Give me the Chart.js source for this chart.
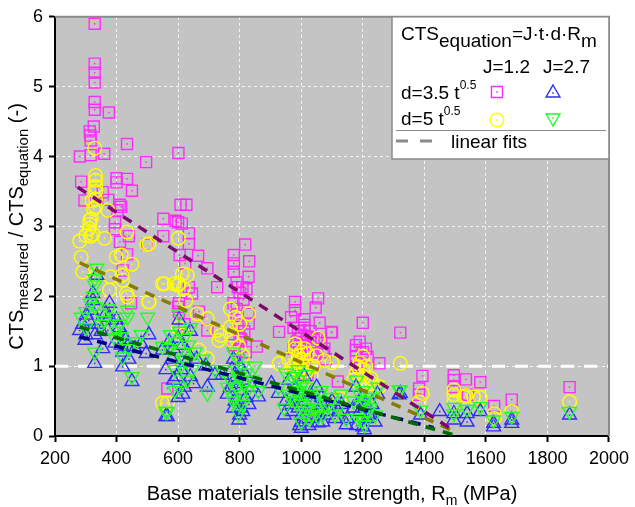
<!DOCTYPE html>
<html>
<head>
<meta charset="utf-8">
<script src="https://cdn.jsdelivr.net/npm/chart.js@4/dist/chart.umd.min.js"></script>
<style>
  html, body { margin: 0; padding: 0; background: #fff; }
  #wrap { width: 635px; height: 507px; }
</style>
</head>
<body>
<div id="wrap"><canvas id="chart" width="635" height="507"></canvas></div>
<script>
// J=1.2, d=3.5 t^0.5 (squares)
const sqX = [329,329,329,329,329,329,375,326,313,315,316,434,281,316,360,601,496,285,400,400,434,450,355,296,373,410,415,403,552,552,395,395,411,440,500,434,420,447,608,627,592,600,612,635,635,665,605,623,695,818,781,781,781,831,829,794,809,727,635,645,603,603,668,695,790,800,812,822,780,790,829,829,856,565,1055,980,980,1047,967,1010,1010,1060,1098,928,975,990,1000,1020,1040,985,1005,1030,1065,1075,995,1015,1050,1080,1000,1040,1200,1178,1178,1178,1216,1200,1190,1322,1254,1394,1383,1383,1496,1496,1496,1535,1542,1582,1627,1684,1872,1119,1055,1100,1000,1020,800,780,820,600,620,790,800,815,805,795,975,995,1010,1030,1050,1070,1190,1210,1180];
const sqY = [5.9,5.33,5.2,5.06,4.78,4.67,4.63,4.43,4.36,4.3,4.23,4.18,4.0,4.02,4.04,4.05,3.92,3.64,3.69,3.63,3.68,3.51,3.49,3.37,3.38,3.31,3.28,3.23,3.11,2.86,3.06,2.96,2.78,2.86,2.74,2.6,2.37,1.9,3.31,3.31,3.08,3.06,3.04,2.9,2.75,2.58,2.59,2.47,2.4,2.74,2.59,2.47,2.35,2.5,2.28,2.13,2.13,2.13,2.13,2.04,1.9,1.78,1.78,1.51,2.2,2.05,1.95,2.1,1.9,1.82,1.75,1.61,1.28,0.68,1.97,1.92,1.8,1.84,1.7,1.67,1.59,1.62,1.49,1.49,1.55,1.5,1.45,1.42,1.38,1.35,1.3,1.28,1.33,1.25,1.2,1.15,1.18,1.1,1.08,1.05,1.62,1.3,1.23,1.13,1.13,1.2,1.05,1.48,1.04,0.86,0.68,0.59,0.87,0.8,0.7,0.81,0.59,0.77,0.43,0.52,0.7,0.78,0.33,1.48,0.9,0.85,1.4,1.3,1.2,1.85,1.6,1.72,1.6,1.5,1.38,1.22,1.25,1.4,1.55,1.5,1.4,1.2,1.35,1.25,1.0];

// J=1.2, d=5 t^0.5 (circles)
const ciX = [329,332,332,332,332,332,332,313,313,311,318,280,316,323,361,434,498,372,285,399,415,450,290,335,380,418,377,436,504,549,549,320,325,300,420,432,506,601,555,587,603,614,630,600,617,506,625,662,695,727,738,732,770,786,770,775,797,829,668,695,565,1055,980,1000,1020,1050,1075,1100,928,960,975,990,1005,1015,1032,970,1000,985,995,1010,1020,1000,990,1200,1178,1205,1216,1125,1322,1254,1394,1383,1496,1496,1496,1528,1535,1582,1627,1627,1684,1872,1184,1227,1560,800,780,810,600,620,1190,1200,1210,1170,1230,980,1010,1040];
const ciY = [4.12,3.73,3.66,3.57,3.5,3.39,3.28,3.09,3.03,2.97,3.11,2.79,2.86,2.89,2.83,2.92,2.74,3.23,2.56,2.56,2.59,2.46,2.35,2.3,2.28,2.3,2.09,1.99,1.92,2.18,0.47,3.37,3.25,2.87,2.23,2.04,2.75,2.83,2.18,2.18,2.18,2.32,2.3,2.16,2.11,1.92,1.94,1.75,1.68,1.51,1.44,1.37,1.82,1.7,1.56,1.44,1.28,1.75,1.23,1.11,0.47,1.4,1.32,1.2,1.18,1.15,1.08,1.05,1.04,1.1,1.0,0.95,1.02,0.9,0.86,0.9,0.85,1.05,0.98,0.93,1.0,1.1,1.15,1.14,0.9,0.85,0.75,0.54,1.04,0.71,0.61,0.49,0.66,0.59,0.49,0.56,0.58,0.55,0.32,0.25,0.35,0.49,0.99,0.82,0.56,1.6,1.35,1.15,1.55,1.45,1.05,0.95,1.0,0.8,0.75,1.25,1.25,1.0];

// J=2.7, d=3.5 t^0.5 (up triangles)
const trX = [323,323,318,302,280,297,377,377,372,400,410,420,430,436,415,395,340,350,330,310,290,496,329,420,450,549,560,336,300,460,480,505,420,440,365,355,603,571,585,600,615,630,625,610,595,640,650,620,565,695,720,743,580,560,640,660,690,797,861,780,800,790,810,770,800,820,785,805,830,760,840,800,815,775,926,1000,1055,1146,1205,903,960,980,1000,1010,990,1000,1020,1040,1060,1080,1100,1120,950,970,1000,1030,1050,1150,1010,1178,1200,1210,1190,1220,1240,1180,1200,1248,1322,1388,1496,1496,1539,1539,1582,1625,1625,1684,1684,1872,1318,1450,985,1015,1035,1070,1090,1110,965,945,1025,995,1045,1065,1130,1190,1205,1230,1215,1170,780,810,795,600,615,585];
const trY = [2.04,1.94,1.8,1.73,1.51,1.37,1.9,1.7,1.51,1.66,1.55,1.45,1.38,1.28,1.3,1.33,1.6,1.5,1.45,1.65,1.6,1.18,1.04,0.99,0.78,1.23,0.28,2.3,1.45,1.25,1.32,1.45,1.2,1.1,1.75,1.25,1.66,1.35,1.25,1.4,1.3,1.2,1.05,0.95,0.85,0.85,0.75,0.7,0.28,0.7,0.87,0.87,1.1,0.95,1.5,1.1,1.0,0.23,0.56,1.1,1.0,0.85,0.8,0.7,0.65,0.55,0.5,0.4,0.45,0.6,0.7,0.3,0.9,0.95,0.61,0.11,0.19,0.16,0.09,0.75,0.8,0.7,0.6,0.5,0.4,0.3,0.35,0.45,0.4,0.3,0.5,0.35,0.5,0.35,0.2,0.6,0.7,0.25,0.85,0.7,0.55,0.45,0.35,0.3,0.2,0.15,0.13,0.6,0.61,0.3,0.32,0.23,0.32,0.2,0.35,0.18,0.13,0.23,0.18,0.3,0.59,0.35,0.55,0.25,0.25,0.2,0.35,0.25,0.45,0.3,0.15,0.15,0.3,0.55,0.45,0.5,0.4,0.45,0.25,0.4,0.4,0.35,0.75,0.55,0.6,0.8];

// J=2.7, d=5 t^0.5 (down triangles)
const dtX = [329,329,325,315,300,285,336,330,345,360,375,390,436,436,501,329,420,450,549,560,400,415,425,440,410,300,350,465,480,395,603,575,590,605,620,635,600,620,610,590,645,630,655,565,695,720,743,570,680,640,797,861,780,795,810,790,800,770,815,790,805,780,825,840,800,760,820,850,1000,1055,1146,1205,926,950,970,990,1005,1015,995,1010,1025,980,1000,1040,1060,1080,1100,1120,1130,960,1000,1020,1050,990,1015,1180,1200,1215,1195,1225,1240,1185,1200,1250,1322,1388,1496,1496,1539,1582,1625,1684,1872,1318,985,1015,1035,1070,1090,1110,965,945,1025,1045,1065,1190,1205,1230,1215,1170,780,810,795,605,590];
const dtY = [2.25,2.16,2.0,1.9,1.78,1.7,2.4,1.85,1.75,1.65,1.82,1.7,1.8,1.7,1.7,1.2,1.13,0.85,1.28,0.35,1.5,1.42,1.35,1.25,1.6,1.55,1.6,1.35,1.45,1.4,1.75,1.45,1.35,1.5,1.4,1.3,1.2,1.1,1.0,0.95,0.95,0.8,1.2,0.35,0.61,0.95,0.95,1.25,1.1,1.55,0.32,0.65,1.2,1.1,1.0,0.95,0.85,0.8,0.75,0.7,0.6,0.55,0.65,0.8,0.45,0.7,0.9,1.0,0.2,0.28,0.25,0.16,0.7,0.9,0.85,0.8,0.75,0.7,0.65,0.6,0.55,0.5,0.45,0.5,0.6,0.45,0.55,0.4,0.6,0.6,0.35,0.4,0.35,0.95,0.88,0.8,0.65,0.55,0.45,0.4,0.3,0.25,0.22,0.7,0.66,0.37,0.41,0.32,0.38,0.42,0.23,0.28,0.35,0.66,0.65,0.3,0.3,0.3,0.45,0.3,0.55,0.4,0.25,0.4,0.65,0.6,0.5,0.55,0.35,0.5,0.5,0.45,0.85,0.7,0.65];

// linear fits (end points)
const fitSqX = [274, 1484], fitSqY = [3.56, 0.11];
const fitCiX = [280, 1496], fitCiY = [2.48, 0.07];
const fitTrX = [280, 1430], fitTrY = [1.42, 0.12];
const fitDtX = [280, 1500], fitDtY = [1.56, 0.01];

const xTicks = [200, 400, 600, 800, 1000, 1200, 1400, 1600, 1800, 2000];
const yTicks = [0, 1, 2, 3, 4, 5, 6];

const FONT = '"Liberation Sans", Arial, sans-serif';
const pts = (xs, ys) => xs.map((x, i) => ({ x, y: ys[i] }));

const MAG = '#ff2cff', YEL = '#ffff00', BLU = '#2e2eff', GRN = '#22ff22';

const marker = (label, xs, ys, color, style, r, rot, order) => ({
  label, data: pts(xs, ys), order,
  pointStyle: style, pointRadius: r, pointRotation: rot || 0,
  pointBorderColor: color, pointBackgroundColor: 'rgba(0,0,0,0)',
  pointBorderWidth: 1.4, showLine: false, dotColor: color
});
const fit = (xs, ys, color) => ({
  data: pts(xs, ys), showLine: true, pointRadius: 0, order: 0,
  borderColor: color, borderWidth: 3.5, borderDash: [10, 8]
});

// text with sub/superscripts
const richText = (ctx, parts, x, y) => {
  let cx = x;
  parts.forEach(p => {
    ctx.font = p.size + 'px ' + FONT;
    ctx.fillText(p.t, cx, y + (p.dy || 0));
    cx += ctx.measureText(p.t).width;
  });
  return cx - x;
};
const richWidth = (ctx, parts) => parts.reduce((w, p) => {
  ctx.font = p.size + 'px ' + FONT;
  return w + ctx.measureText(p.t).width;
}, 0);

const decor = {
  id: 'decor',
  beforeDraw(chart) {
    const { ctx, chartArea: a } = chart;
    ctx.save();
    ctx.fillStyle = '#c4c4c4';
    ctx.fillRect(a.left, a.top, a.right - a.left, a.bottom - a.top);
    ctx.restore();
  },
  afterDatasetDraw(chart, args) {
    const ds = chart.data.datasets[args.index];
    if (!ds.dotColor) return;
    const ctx = chart.ctx;
    ctx.save();
    ctx.fillStyle = ds.dotColor;
    args.meta.data.forEach(p => ctx.fillRect(p.x - 0.75, p.y - 0.75, 1.5, 1.5));
    ctx.restore();
  },
  afterDraw(chart) {
    const { ctx, chartArea: a } = chart;
    ctx.save();
    // top/right frame
    ctx.strokeStyle = '#8a8a8a';
    ctx.lineWidth = 2;
    ctx.beginPath();
    ctx.moveTo(a.left, a.top); ctx.lineTo(a.right, a.top); ctx.lineTo(a.right, a.bottom);
    ctx.stroke();

    // legend box
    ctx.fillStyle = '#fff';
    ctx.fillRect(392, a.top, a.right - 392, 159 - a.top);
    ctx.strokeStyle = '#8a8a8a';
    ctx.lineWidth = 1.5;
    ctx.strokeRect(392, a.top, a.right - 392, 159 - a.top);

    ctx.fillStyle = '#000';
    ctx.textBaseline = 'alphabetic';
    ctx.textAlign = 'left';
    richText(ctx, [{ t: 'CTS', size: 19 }, { t: 'equation', size: 19, dy: 7 }, { t: '=J·t·d·R', size: 19 }, { t: 'm', size: 19, dy: 7 }], 401, 40);
    richText(ctx, [{ t: 'J=1.2', size: 19 }], 483, 73);
    richText(ctx, [{ t: 'J=2.7', size: 19 }], 543, 73);
    richText(ctx, [{ t: 'd=3.5 t', size: 19 }, { t: '0.5', size: 12, dy: -10 }], 401, 99);
    richText(ctx, [{ t: 'd=5 t', size: 19 }, { t: '0.5', size: 12, dy: -10 }], 401, 125);

    const H = Chart.helpers;
    const pm = (style, r, rot, color, x, y) => {
      ctx.strokeStyle = color; ctx.fillStyle = 'rgba(0,0,0,0)'; ctx.lineWidth = 1.4;
      H.drawPoint(ctx, { pointStyle: style, radius: r, rotation: rot, borderWidth: 1.4 }, x, y);
      ctx.fillStyle = color;
      ctx.fillRect(x - 0.75, y - 0.75, 1.5, 1.5);
    };
    pm('rect', 7.8, 0, MAG, 497, 92);
    pm('triangle', 8, 0, BLU, 553, 93);
    pm('circle', 6.8, 0, YEL, 497, 120);
    pm('triangle', 8, 180, GRN, 553, 118);

    ctx.strokeStyle = '#8a8a8a';
    ctx.lineWidth = 1;
    ctx.beginPath(); ctx.moveTo(396, 130.5); ctx.lineTo(606, 130.5); ctx.stroke();
    ctx.lineWidth = 3;
    ctx.setLineDash([12, 12]);
    ctx.beginPath(); ctx.moveTo(396, 141); ctx.lineTo(434, 141); ctx.stroke();
    ctx.setLineDash([]);
    ctx.fillStyle = '#000';
    richText(ctx, [{ t: 'linear fits', size: 19 }], 451, 148);

    // x title
    const xt = [{ t: 'Base materials tensile strength, R', size: 20 }, { t: 'm', size: 14, dy: 5 }, { t: ' (MPa)', size: 20 }];
    const xw = richWidth(ctx, xt);
    richText(ctx, xt, (a.left + a.right) / 2 - xw / 2, 500);

    // y title
    const yt = [{ t: 'CTS', size: 20 }, { t: 'measured', size: 15, dy: 5 }, { t: ' / CTS', size: 20 }, { t: 'equation', size: 15, dy: 5 }, { t: ' (-)', size: 20 }];
    const yw = richWidth(ctx, yt);
    ctx.translate(23, (a.top + a.bottom) / 2);
    ctx.rotate(-Math.PI / 2);
    richText(ctx, yt, -yw / 2, 0);
    ctx.restore();
  }
};

const tickFont = { family: FONT, size: 18 };

new Chart(document.getElementById('chart'), {
  type: 'scatter',
  data: {
    datasets: [
      fit(fitSqX, fitSqY, '#7c0a6c'),
      fit(fitCiX, fitCiY, '#867c00'),
      fit(fitDtX, fitDtY, '#006a00'),
      fit(fitTrX, fitTrY, '#00007c'),
      marker('J=2.7 d=5', dtX, dtY, GRN, 'triangle', 8, 180, 1),
      marker('J=2.7 d=3.5', trX, trY, BLU, 'triangle', 8, 0, 2),
      marker('J=1.2 d=5', ciX, ciY, YEL, 'circle', 6.8, 0, 3),
      marker('J=1.2 d=3.5', sqX, sqY, MAG, 'rect', 7.8, 0, 4),
      {
        data: [{ x: 200, y: 1 }, { x: 2000, y: 1 }], showLine: true, pointRadius: 0, order: 5,
        borderColor: '#ffffff', borderWidth: 3, borderDash: [13, 10]
      }
    ]
  },
  options: {
    responsive: false,
    animation: false,
    events: [],
    layout: { padding: { left: 0, right: 22, top: 16, bottom: 0 } },
    plugins: { legend: { display: false }, tooltip: { enabled: false } },
    scales: {
      x: {
        type: 'linear', min: 200, max: 2000,
        afterBuildTicks: s => { s.ticks = xTicks.map(v => ({ value: v })); },
        afterFit: s => { s.height = 71; },
        ticks: { color: '#000', font: tickFont, padding: 6, maxRotation: 0, autoSkip: false, callback: v => String(v) },
        grid: { color: 'rgba(255,255,255,0.8)', lineWidth: 1, tickColor: '#000', tickLength: 6, tickWidth: 2 },
        border: { color: '#000', width: 2, dash: [3, 3] }
      },
      y: {
        min: 0, max: 6,
        afterBuildTicks: s => { s.ticks = yTicks.map(v => ({ value: v })); },
        afterFit: s => { s.width = 55; },
        ticks: { color: '#000', font: tickFont, padding: 6, callback: v => String(v) },
        grid: { color: 'rgba(255,255,255,0.8)', lineWidth: 1, tickColor: '#000', tickLength: 6, tickWidth: 2 },
        border: { color: '#000', width: 2, dash: [3, 3] }
      }
    }
  },
  plugins: [decor]
});
</script>
</body>
</html>
